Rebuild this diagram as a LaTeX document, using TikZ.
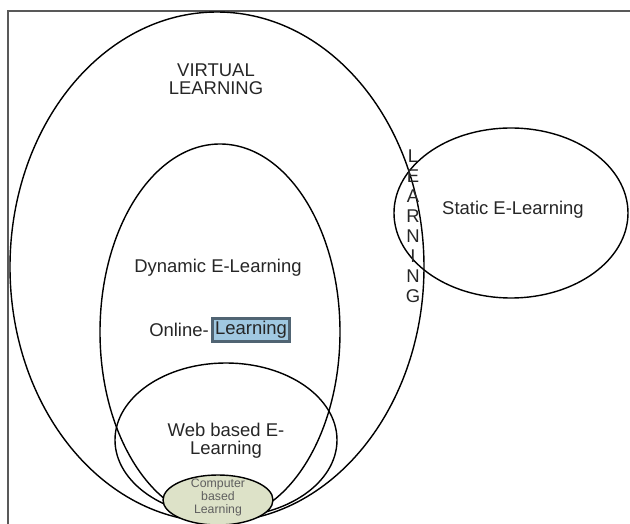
\documentclass[tikz,border=0pt]{standalone}
\usepackage{fontspec}
\setmainfont{Liberation Sans}
\usetikzlibrary{shapes.geometric, positioning}
\definecolor{cblOlive}{RGB}{221,226,200}
\definecolor{hlBlue}{RGB}{160,200,225}
\definecolor{hlSlate}{RGB}{80,100,115}
\definecolor{capGray}{RGB}{95,95,95}

\begin{document}
\begin{tikzpicture}[
  ring/.style={ellipse, draw, line width=0.8pt, inner sep=0pt},
  lbl/.style={font=\fontsize{10.5}{10.5}\selectfont, align=center,
              inner sep=0pt, text=black!85}
]
  \useasboundingbox (0,0) rectangle (12.6,-10.48);
  % frame
  \draw[line width=1.2pt, black!65] (0.16,-10.48) -- (0.16,-0.22) -- (12.6,-0.22);

  % the sets
  \node[ring, minimum width=8.28cm, minimum height=10.2cm] (virtual) at (4.34,-5.34) {};
  \node[ring, minimum width=4.8cm, minimum height=7.52cm] (dynamic) at (4.4,-6.64) {};
  \node[ring, minimum width=4.44cm, minimum height=3.08cm] (web) at (4.52,-8.8) {};
  \node[ring, minimum width=4.68cm, minimum height=3.4cm] (static) at (10.22,-4.26) {};
  \node[ring, fill=cblOlive, minimum width=2.2cm, minimum height=1.0cm] (cbl) at (4.36,-10.0) {};

  % labels
  \node[lbl] (virtualText) at (4.32,-1.58) {VIRTUAL\\LEARNING};
  \node[lbl] (staticText) at (10.26,-4.2) {Static E-Learning};
  \node[lbl] (dynamicText) at (4.36,-5.36) {Dynamic E-Learning};
  \node[lbl, fill=hlBlue, draw=hlSlate, line width=1.8pt, inner sep=1.5pt,
        minimum height=0.46cm] (onlineHl) at (5.02,-6.6) {Learning};
  \node[lbl, left=1pt of onlineHl] (onlineText) {Online-};
  \node[lbl] (webText) at (4.52,-8.82) {Web based E-\\Learning};
  \node[align=center, inner sep=0pt, text=capGray,
        font=\fontsize{7}{7.4}\selectfont] (cblText) at (4.36,-9.94)
    {Computer\\based\\Learning};

  % vertical word
  \node[align=center, inner sep=0pt, text=black!85,
        font=\fontsize{10.5}{11.4}\selectfont] (vertWord) at (8.26,-4.52)
    {L\\E\\A\\R\\N\\I\\N\\G};
\end{tikzpicture}
\end{document}
